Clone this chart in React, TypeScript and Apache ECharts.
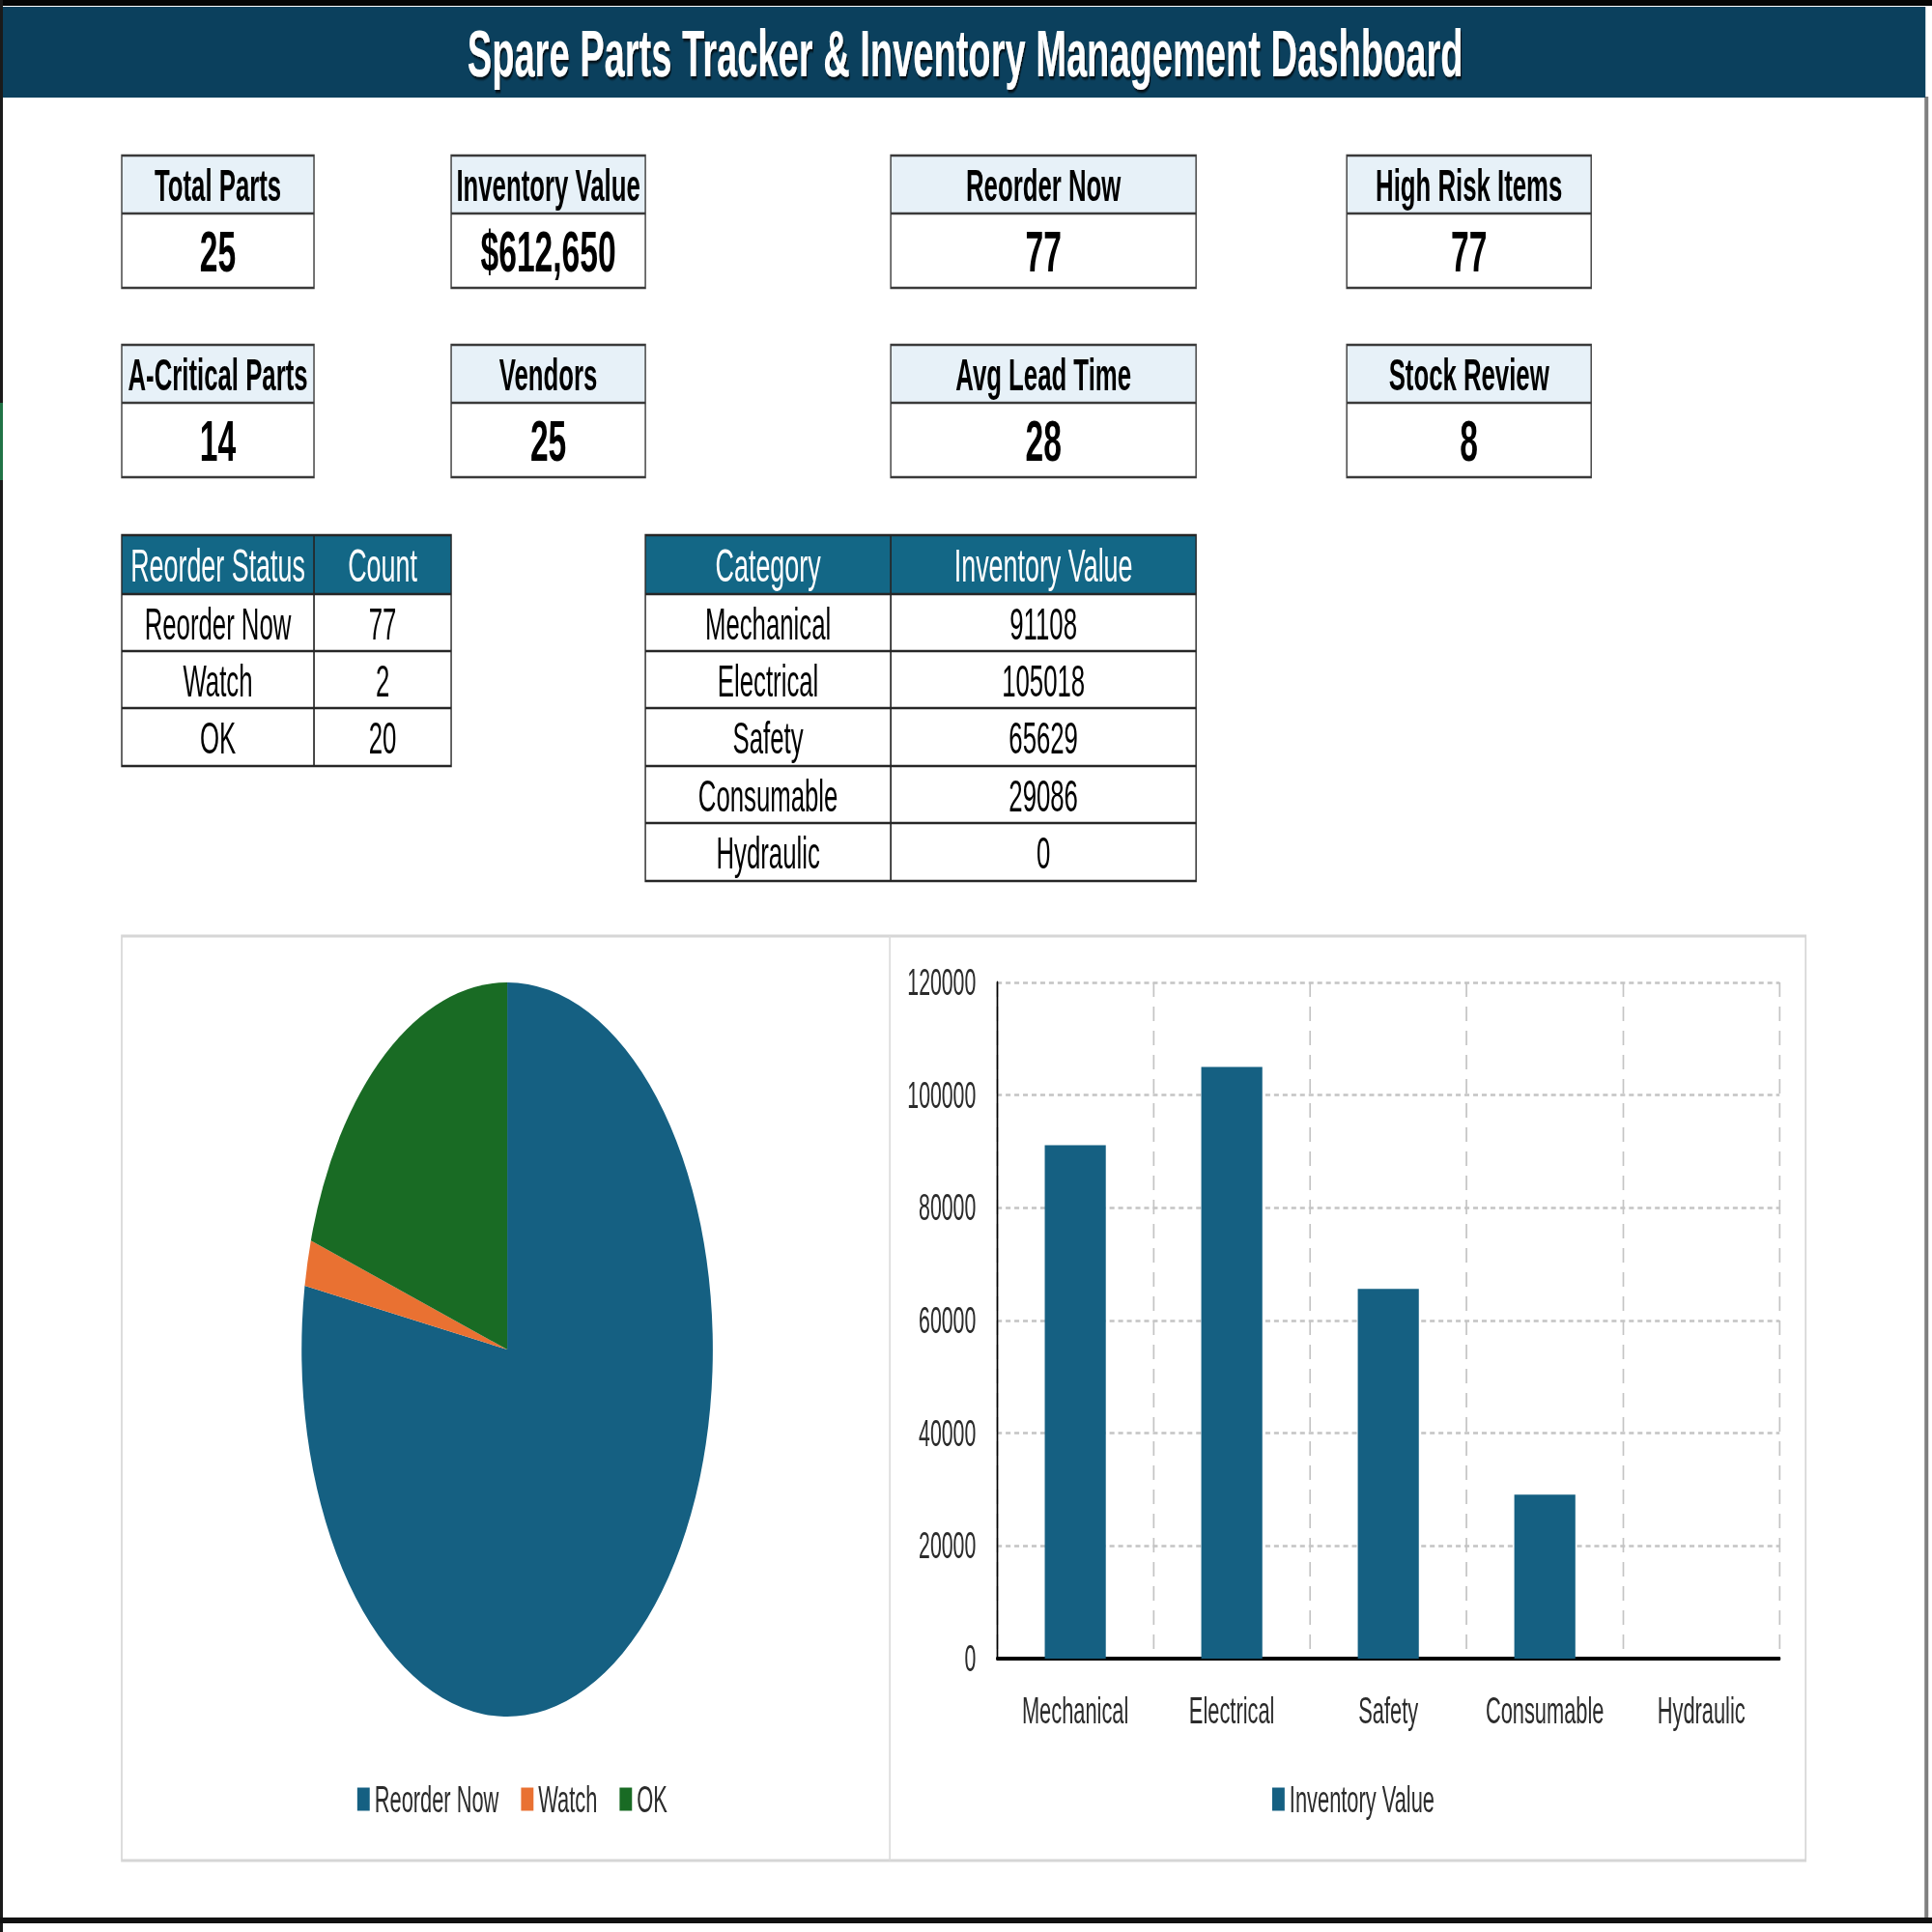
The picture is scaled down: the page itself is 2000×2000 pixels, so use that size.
import React, { useEffect, useRef } from 'react';
import * as echarts from 'echarts';

// ---- data ----
const statusNames = ['Reorder Now', 'Watch', 'OK'];
const statusCounts = [77, 2, 20];
const statusColors = ['#156082', '#E97132', '#196B24'];
const categories = ['Mechanical', 'Electrical', 'Safety', 'Consumable', 'Hydraulic'];
const inventoryValues = [91108, 105018, 65629, 29086, 0];
const kpiLabels = ['Total Parts', 'Inventory Value', 'Reorder Now', 'High Risk Items', 'A-Critical Parts', 'Vendors', 'Avg Lead Time', 'Stock Review'];
const kpiValues = ['25', '$612,650', '77', '77', '14', '25', '28', '8'];
const statusTableHeader = ['Reorder Status', 'Count'];
const categoryTableHeader = ['Category', 'Inventory Value'];
const barSeriesName = 'Inventory Value';
const titleText = 'Spare Parts Tracker & Inventory Management Dashboard';

// ---- layout (horizontal squash, like the reference) ----
const S = 0.56;
const W = Math.round(2000 / S);
const X = (v: number) => v / S;
const FONT = '"Liberation Sans", Arial, sans-serif';

function txt(x: number, y: number, text: string, size: number, o: any = {}) {
  return {
    type: 'text', x: X(x), y, silent: true, z: 5,
    style: {
      text, fontSize: size, fontFamily: FONT, fontWeight: o.bold ? 'bold' : 'normal',
      fill: o.fill || '#000', textAlign: 'center', textVerticalAlign: 'middle',
      textShadowColor: o.shadow ? 'rgba(0,0,0,0.75)' : undefined,
      textShadowOffsetX: o.shadow ? 2 : 0, textShadowOffsetY: o.shadow ? 3 : 0,
      textShadowBlur: o.shadow ? 2 : 0,
    },
  };
}
function rect(x1: number, y1: number, x2: number, y2: number, fill: string, stroke?: string, lw = 0, z = 1) {
  return {
    type: 'rect', silent: true, z,
    shape: { x: X(x1), y: y1, width: X(x2) - X(x1), height: y2 - y1 },
    style: { fill, stroke: stroke || null, lineWidth: lw },
  };
}
function line(x1: number, y1: number, x2: number, y2: number, stroke: string, lw: number, z = 2) {
  return { type: 'line', silent: true, z, shape: { x1: X(x1), y1, x2: X(x2), y2 }, style: { stroke, lineWidth: lw } };
}

function buildGraphics() {
  const g: any[] = [];
  // frame
  g.push(rect(0, 0, 2000, 6, '#050505', undefined, 0, 0));
  g.push(rect(0, 0, 3, 2000, '#1a1a1a', undefined, 0, 0));
  g.push(rect(0, 417, 3, 497, '#217346', undefined, 0, 1));
  g.push(rect(1992, 100, 1996, 1988, '#7f7f7f', undefined, 0, 0));
  g.push(rect(0, 1985, 2000, 1991, '#111111', undefined, 0, 0));
  // title bar
  g.push(rect(3, 7, 1993, 101, '#0B405D', undefined, 0, 1));
  g.push(txt(999, 56, titleText, 68, { bold: true, fill: '#ffffff', shadow: true }));

  // KPI cards
  const cardX = [[126, 325], [467, 668], [922, 1238], [1394, 1647]];
  const cardY = [[161, 221, 298], [357, 417, 494]];
  kpiLabels.forEach((lab, i) => {
    const [x1, x2] = cardX[i % 4];
    const [y1, ym, y2] = cardY[Math.floor(i / 4)];
    g.push(rect(x1, y1, x2, ym, '#E7F1F8', undefined, 0, 1));
    g.push(rect(x1, y1, x2, y2, 'transparent', '#3a3a3a', 2.5, 3));
    g.push(line(x1, ym, x2, ym, '#3a3a3a', 2.5, 3));
    const cx = (x1 + x2) / 2;
    g.push(txt(cx, (y1 + ym) / 2 + 1, lab, 46, { bold: true }));
    g.push(txt(cx, (ym + y2) / 2 + 1, kpiValues[i], 60, { bold: true }));
  });

  // tables
  const headFill = '#136786';
  const border = '#262626';
  const rowY = [554, 615, 674, 733, 793, 852, 912];
  const table = (xs: number[], header: string[], col1: string[], col2: string[]) => {
    const n = col1.length;
    const yb = rowY[n + 1];
    g.push(rect(xs[0], rowY[0], xs[2], rowY[1], headFill, undefined, 0, 1));
    g.push(rect(xs[0], rowY[0], xs[2], yb, 'transparent', border, 2.5, 3));
    g.push(line(xs[1], rowY[0], xs[1], yb, border, 3, 3));
    for (let r = 1; r <= n; r++) g.push(line(xs[0], rowY[r], xs[2], rowY[r], border, 2.5, 3));
    g.push(txt((xs[0] + xs[1]) / 2, (rowY[0] + rowY[1]) / 2 + 1, header[0], 48, { fill: '#ffffff' }));
    g.push(txt((xs[1] + xs[2]) / 2, (rowY[0] + rowY[1]) / 2 + 1, header[1], 48, { fill: '#ffffff' }));
    for (let r = 0; r < n; r++) {
      const cy = (rowY[r + 1] + rowY[r + 2]) / 2 + 1;
      g.push(txt((xs[0] + xs[1]) / 2, cy, col1[r], 46));
      g.push(txt((xs[1] + xs[2]) / 2, cy, col2[r], 46));
    }
  };
  table([126, 325, 467], statusTableHeader, statusNames, statusCounts.map(String));
  table([668, 922, 1238], categoryTableHeader, categories, inventoryValues.map(String));

  // chart boxes
  g.push(rect(126, 969, 1869, 1926, '#ffffff', '#D6D6D6', 3, 0));
  g.push(line(921, 969, 921, 1926, '#DCDCDC', 3, 0));
  return g;
}

export default function App() {
  const ref = useRef<HTMLDivElement>(null);
  useEffect(() => {
    if (!ref.current) return;
    document.body.style.overflow = 'hidden';
    const chart = echarts.init(ref.current, null, { renderer: 'svg' });
    const labelColor = '#2b2b2b';
    chart.setOption({
      animation: false,
      backgroundColor: '#ffffff',
      graphic: { elements: buildGraphics() },
      legend: [
        {
          data: statusNames, left: X(367), top: 1838, icon: 'rect', itemWidth: 23, itemHeight: 24, itemGap: 41,
          textStyle: { fontSize: 39, fontFamily: FONT, color: labelColor, padding: [0, 0, 0, 4] },
          selectedMode: false,
        },
        {
          data: [barSeriesName], left: X(1314), top: 1838, icon: 'rect', itemWidth: 23, itemHeight: 24,
          textStyle: { fontSize: 39, fontFamily: FONT, color: labelColor, padding: [0, 0, 0, 4] },
          selectedMode: false,
        },
      ],
      grid: { left: X(1032), right: W - X(1842), top: 1017, bottom: 2000 - 1717, containLabel: false },
      xAxis: {
        type: 'category', data: categories,
        axisLine: { show: true, lineStyle: { color: '#000000', width: 4 } },
        axisTick: { show: false },
        axisLabel: { fontSize: 39, fontFamily: FONT, color: labelColor, margin: 34 },
        splitLine: { show: true, lineStyle: { type: [15, 10], color: '#C4C4C4', width: 3 } },
      },
      yAxis: {
        type: 'value', min: 0, max: 120000, interval: 20000,
        axisLine: { show: true, lineStyle: { color: '#000000', width: 3 } },
        axisTick: { show: false },
        axisLabel: { fontSize: 38, fontFamily: FONT, color: labelColor, margin: 39, formatter: (v: number) => String(v) },
        splitLine: { show: true, lineStyle: { type: [9, 7], color: '#C4C4C4', width: 2.5 } },
      },
      series: [
        {
          type: 'pie', name: 'Reorder Status', center: [X(525), 1397], radius: 380,
          startAngle: 90, clockwise: true, silent: true,
          label: { show: false }, labelLine: { show: false },
          itemStyle: { borderWidth: 0 },
          data: statusNames.map((n, i) => ({ name: n, value: statusCounts[i], itemStyle: { color: statusColors[i] } })),
        },
        {
          type: 'bar', name: barSeriesName, data: inventoryValues, barWidth: '39%', silent: true,
          itemStyle: { color: '#156082' },
        },
      ],
    });
    return () => chart.dispose();
  }, []);
  return (
    <div
      ref={ref}
      style={{
        position: 'fixed', left: 0, top: 0, width: W + 'px', height: '2000px',
        transform: `scaleX(${2000 / W})`, transformOrigin: '0 0', background: '#fff',
      }}
    />
  );
}
